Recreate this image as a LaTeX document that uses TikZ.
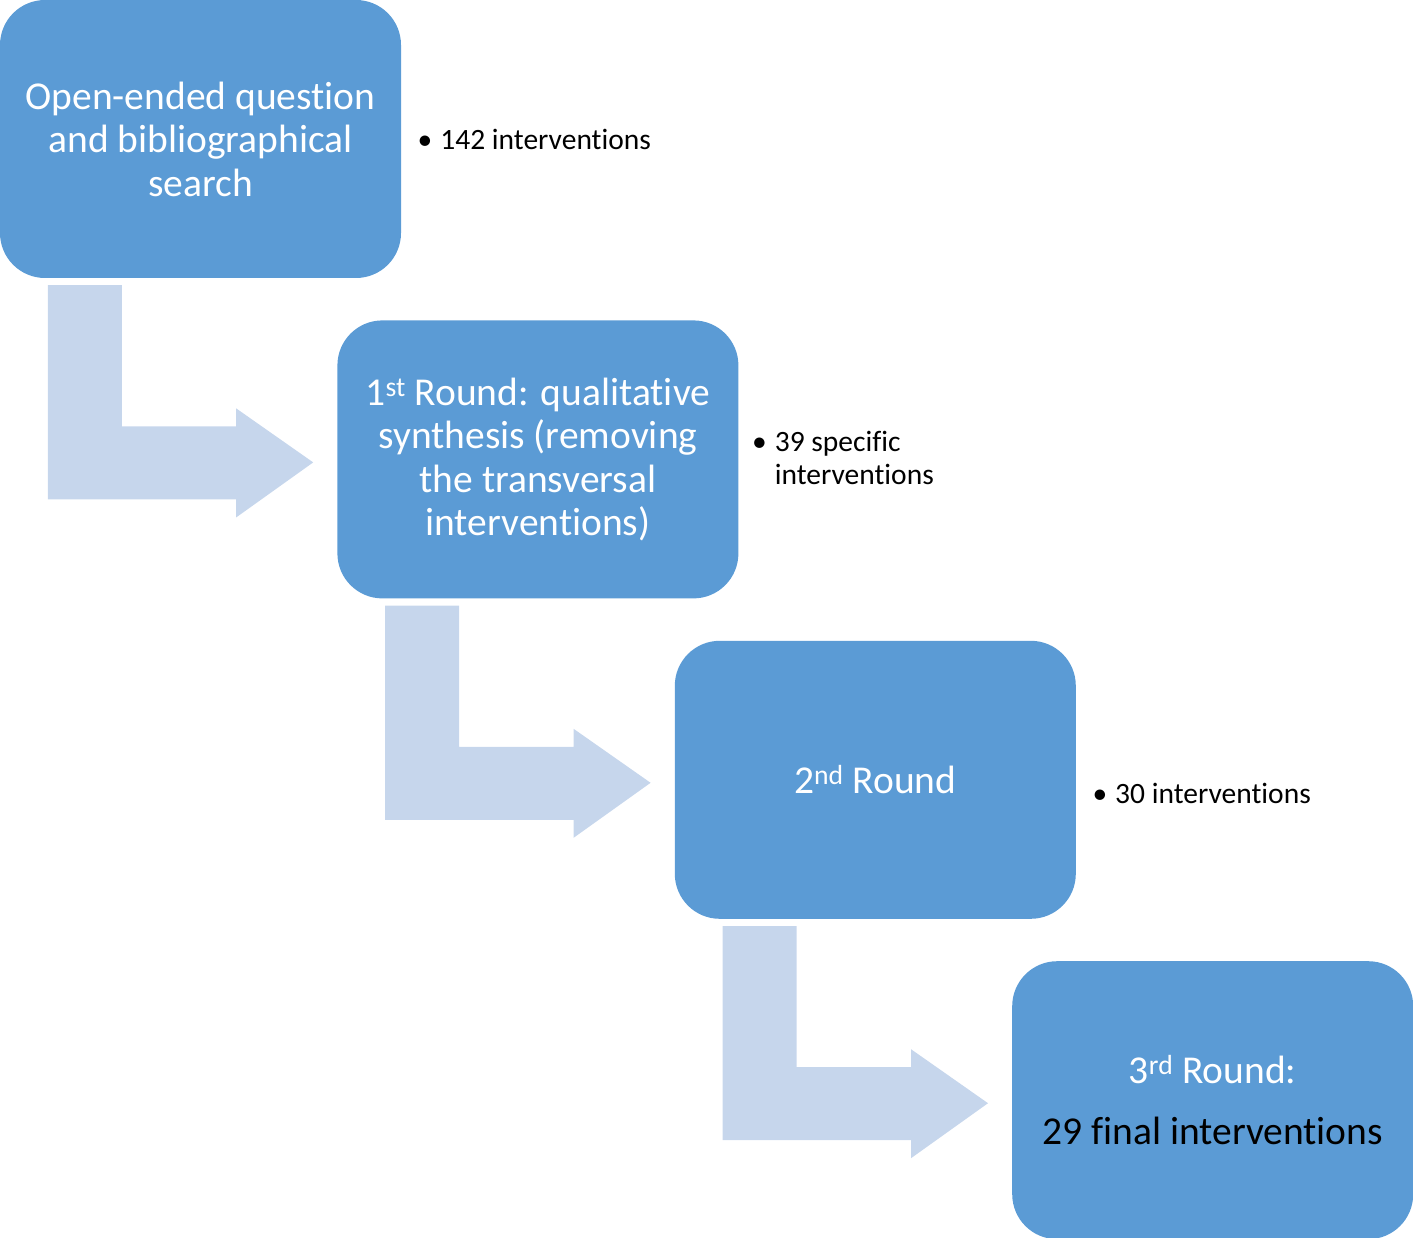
\documentclass[tikz,border=0pt]{standalone}
\usepackage{fontspec}
\setmainfont[Ligatures={NoCommon}]{Carlito}
\usepackage{tikz}
\usetikzlibrary{positioning,calc}
\definecolor{stepblue}{HTML}{5B9BD5}
\definecolor{flowband}{HTML}{C6D6EC}

% bent arrow from the bottom of box #1 to the left side of box #2
\newcommand{\bentarrow}[2]{%
  \fill[flow] ($(#1.south west)+(48,7)$) coordinate (#1-top) -- ++(74,0)
    |- ($(#2.west)+(-101,-33)$) -- ++(0,-18) -- ($(#2.west)+(-24,3)$)
    -- ($(#2.west)+(-101,58)$) -- ++(0,-18) -| (#1-top) -- cycle;}

\begin{document}
\begin{tikzpicture}[x=1pt,y=-1pt,
    stepbox/.style={fill=stepblue,rounded corners=45pt,minimum width=401pt,minimum height=278pt,
      inner sep=0pt,align=center,text=white,font=\fontsize{39.5}{43.5}\selectfont},
    flow/.style={fill=flowband},
    note/.style={anchor=west,align=left,font=\fontsize{29.5}{33}\selectfont}]
  \useasboundingbox (0,0) rectangle (1413,1238);
  \node[stepbox] (b1) at (200.5,139) {Open-ended question\\and bibliographical\\search};
  \node[stepbox,below right=42pt and -64pt of b1] (b2)
    {1\textsuperscript{st} Round: qualitative\\synthesis (removing\\the transversal\\interventions)};
  \node[stepbox,below right=42pt and -64pt of b2] (b3) {2\textsuperscript{nd} Round};
  \node[stepbox,below right=42pt and -64pt of b3] (b4)
    {\raisebox{0pt}[\height][0pt]{3\textsuperscript{rd} Round:}\\[17pt]\textcolor{black}{29 final interventions}};
  \bentarrow{b1}{b2}
  \bentarrow{b2}{b3}
  \bentarrow{b3}{b4}
  \node[note,right=13pt of b1] (n1) {\textbullet\hspace{8pt}142 interventions};
  \node[note,right=10pt of b2,yshift=-2pt] (n2)
    {\begin{tabular}{@{}l@{\hspace{8pt}}l@{}}\textbullet & 39 specific\\ & interventions\end{tabular}};
  \node[note,right=13pt of b3,yshift=-14pt] (n3) {\textbullet\hspace{8pt}30 interventions};
\end{tikzpicture}
\end{document}
